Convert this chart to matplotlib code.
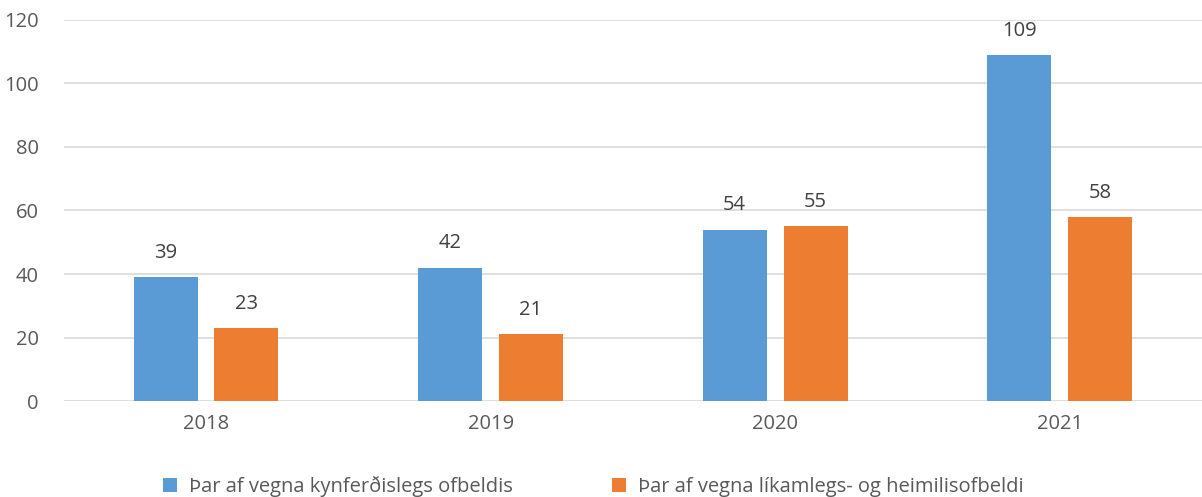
import numpy as np
import matplotlib.pyplot as plt

years = ["2018", "2019", "2020", "2021"]
kynferdis = [39, 42, 54, 109]
likamlegs = [23, 21, 55, 58]
labels = ["Þar af vegna kynferðislegs ofbeldis", "Þar af vegna líkamlegs- og heimilisofbeldi"]
yticks = [0, 20, 40, 60, 80, 100, 120]

plt.rcParams["font.family"] = ["Open Sans", "DejaVu Sans"]
txt = "#595959"

fig = plt.figure(figsize=(12.02, 4.97), dpi=100)
ax = fig.add_axes([0.053, 0.193, 0.947, 0.767])

x = np.arange(len(years))
w = 0.225
b1 = ax.bar(x - 0.142, kynferdis, w, color="#5B9BD5", label=labels[0], zorder=3)
b2 = ax.bar(x + 0.142, likamlegs, w, color="#ED7D31", label=labels[1], zorder=3)
for bars in (b1, b2):
    for r in bars:
        ax.text(r.get_x() + r.get_width() / 2, r.get_height() + 4.5, str(int(r.get_height())),
                ha="center", va="bottom", fontsize=14.5, color="#404040")

ax.set_xlim(-0.5, 3.5)
ax.set_ylim(0, 120)
ax.set_yticks(yticks)
ax.set_xticks(x)
ax.set_xticklabels(years)
ax.grid(axis="y", color="#D9D9D9", linewidth=1.2, zorder=0)
for s in ax.spines.values():
    s.set_visible(False)
ax.tick_params(length=0, labelsize=14.5, colors=txt)
ax.tick_params(axis="x", pad=9)
ax.tick_params(axis="y", pad=18)

fig.legend(handles=[b1, b2], labels=labels, loc="center left",
           bbox_to_anchor=(163 / 1202, 1 - 487 / 497), ncol=2, frameon=False,
           borderpad=0, borderaxespad=0,
           fontsize=14.5, labelcolor=txt, handlelength=0.7, handleheight=0.7,
           columnspacing=4.9, handletextpad=0.6)

fig.savefig("out.png", dpi=100)
